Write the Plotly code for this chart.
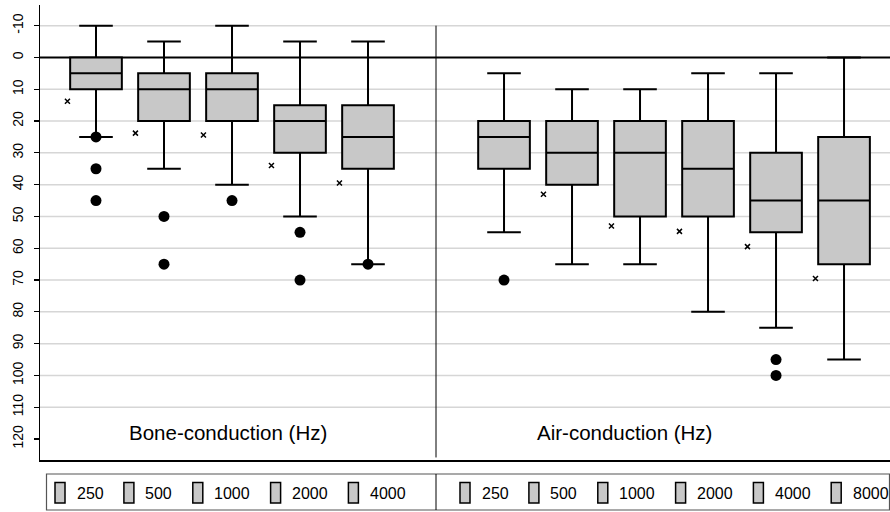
import plotly.graph_objects as go

# ---------------- data ----------------
bone_freqs = ["250", "500", "1000", "2000", "4000"]
air_freqs = ["250", "500", "1000", "2000", "4000", "8000"]

bone_top = [-10, -5, -10, -5, -5]
bone_q1 = [0, 5, 5, 15, 15]
bone_median = [5, 10, 10, 20, 25]
bone_q3 = [10, 20, 20, 30, 35]
bone_bottom = [25, 35, 40, 50, 65]
bone_mean = [13.75, 23.8, 24.4, 34, 39.5]
bone_outliers = [[25, 35, 45], [50, 65], [45], [55, 70], [65]]

air_top = [5, 10, 10, 5, 5, 0]
air_q1 = [20, 20, 20, 20, 30, 25]
air_median = [25, 30, 30, 35, 45, 45]
air_q3 = [35, 40, 50, 50, 55, 65]
air_bottom = [55, 65, 65, 80, 85, 95]
air_mean = [None, 43, 53, 54.7, 59.5, 69.5]
air_outliers = [[70], [], [], [], [95, 100], []]

y_ticks = [-10, 0, 10, 20, 30, 40, 50, 60, 70, 80, 90, 100, 110, 120]
grid_values = [-10, 10, 20, 30, 40, 50, 60, 70, 80, 90, 100, 110]

bone_label = "Bone-conduction (Hz)"
air_label = "Air-conduction (Hz)"

# ---------------- layout constants ----------------
W, H = 890, 512
L, R, T, B = 40, 0, 5, 52
bone_pos = [0, 1, 2, 3, 4]
air_pos = [6, 7, 8, 9, 10, 11]
sep_pos = 5
mean_offset = -0.42
x_range = [-0.8235, 11.676]
y_range = [126.6, -16.5]
BOX_FILL = "#c8c8c8"
FONT = "Liberation Sans, Arial, Helvetica, sans-serif"

def px2paper_x(px):
    return (px - L) / (W - L - R)

def py2paper_y(py):
    return (H - B - py) / (H - T - B)

fig = go.Figure()

positions = bone_pos + air_pos
fig.add_trace(go.Box(
    x=positions,
    q1=bone_q1 + air_q1,
    median=bone_median + air_median,
    q3=bone_q3 + air_q3,
    lowerfence=bone_top + air_top,
    upperfence=bone_bottom + air_bottom,
    boxpoints=False,
    width=0.76,
    whiskerwidth=0.65,
    fillcolor=BOX_FILL,
    line=dict(color="black", width=2),
    showlegend=False,
    hoverinfo="skip",
))

# outliers
ox, oy = [], []
for p, outs in zip(positions, bone_outliers + air_outliers):
    for v in outs:
        ox.append(p)
        oy.append(v)
fig.add_trace(go.Scatter(
    x=ox, y=oy, mode="markers",
    marker=dict(symbol="circle", size=11, color="black"),
    showlegend=False, hoverinfo="skip", cliponaxis=False,
))

# means
mx, my = [], []
for p, m in zip(positions, bone_mean + air_mean):
    if m is not None:
        mx.append(p + mean_offset)
        my.append(m)
fig.add_trace(go.Scatter(
    x=mx, y=my, mode="markers",
    marker=dict(symbol="x-thin", size=5, line=dict(color="black", width=1.5), color="black"),
    showlegend=False, hoverinfo="skip",
))

shapes = []
# grid lines
for g in grid_values:
    shapes.append(dict(type="line", xref="paper", yref="y", x0=0, x1=1, y0=g, y1=g,
                       line=dict(color="#d6d6d6", width=1.5), layer="below"))
# zero line
shapes.append(dict(type="line", xref="paper", yref="y", x0=0, x1=1, y0=0, y1=0,
                   line=dict(color="black", width=2), layer="below"))
# separator in plot
shapes.append(dict(type="line", xref="x", yref="y", x0=sep_pos, x1=sep_pos, y0=-10, y1=y_range[0] - 0.8,
                   line=dict(color="black", width=1), layer="above"))

# legend box
leg_top, leg_bot = 474, 510
shapes.append(dict(type="rect", xref="paper", yref="paper",
                   x0=px2paper_x(46.5), x1=px2paper_x(889.5),
                   y0=py2paper_y(leg_bot), y1=py2paper_y(leg_top),
                   line=dict(color="#555555", width=1.2), fillcolor="rgba(0,0,0,0)"))
shapes.append(dict(type="line", xref="x", yref="paper", x0=sep_pos, x1=sep_pos,
                   y0=py2paper_y(leg_bot), y1=py2paper_y(leg_top),
                   line=dict(color="black", width=1)))

annotations = []
digit_w = 8.9
def legend_group(labels, start_px):
    x = start_px
    for lab in labels:
        shapes.append(dict(type="rect", xref="paper", yref="paper",
                           x0=px2paper_x(x), x1=px2paper_x(x + 10),
                           y0=py2paper_y(503), y1=py2paper_y(482.5),
                           line=dict(color="black", width=1.5), fillcolor=BOX_FILL))
        annotations.append(dict(xref="paper", yref="paper", x=px2paper_x(x + 19.5), y=py2paper_y(493),
                                text=lab, showarrow=False, xanchor="left", yanchor="middle",
                                font=dict(family=FONT, size=16, color="black")))
        x += 20.7 + digit_w * len(lab) + 21.5

legend_group(bone_freqs, 55)
legend_group(air_freqs, 460)

annotations.append(dict(xref="paper", yref="paper", x=px2paper_x(228), y=py2paper_y(432),
                        text=bone_label, showarrow=False, xanchor="center", yanchor="middle",
                        font=dict(family=FONT, size=20.5, color="black")))
annotations.append(dict(xref="paper", yref="paper", x=px2paper_x(624), y=py2paper_y(432),
                        text=air_label, showarrow=False, xanchor="center", yanchor="middle",
                        font=dict(family=FONT, size=20.5, color="black")))

fig.update_layout(
    width=W, height=H,
    margin=dict(l=L, r=R, t=T, b=B, autoexpand=False),
    paper_bgcolor="white", plot_bgcolor="white",
    boxmode="overlay",
    showlegend=False,
    shapes=shapes,
    annotations=annotations,
    font=dict(family=FONT, color="black"),
    xaxis=dict(range=x_range, showgrid=False, zeroline=False, showticklabels=False, automargin=False,
               ticks="", showline=True, linecolor="black", linewidth=1.5, fixedrange=True),
    yaxis=dict(range=y_range, tickmode="array", tickvals=y_ticks, ticktext=[str(v) for v in y_ticks],
               tickangle=-90, ticks="outside", ticklen=5, tickwidth=1.2, tickcolor="black",
               ticklabelstandoff=5, automargin=False,
               showgrid=False, zeroline=False, showline=True, linecolor="black", linewidth=1.5,
               tickfont=dict(family=FONT, size=14, color="black")),
)

fig.write_html(
    "out.html",
    config={"displayModeBar": False, "staticPlot": True},
    post_script="document.body.style.margin='0';document.body.style.padding='0';document.body.style.overflow='hidden';",
)
